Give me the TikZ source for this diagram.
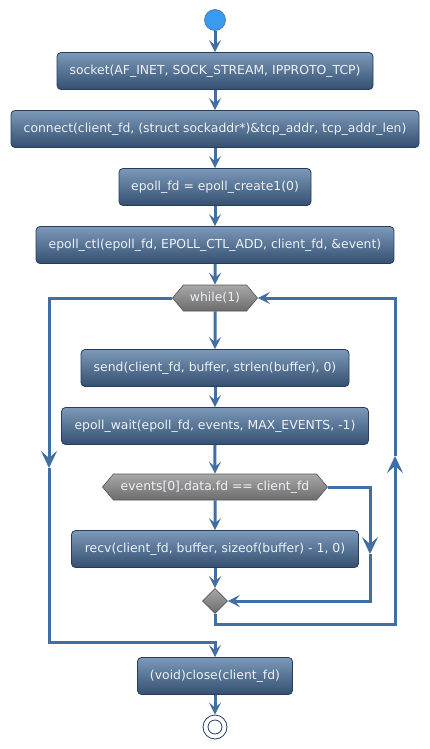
\documentclass[tikz,border=0pt]{standalone}
\usepackage{fontspec}
\setmainfont{DejaVu Sans}
\usetikzlibrary{arrows.meta,shapes.geometric,shapes.symbols}
\definecolor{flowblue}{RGB}{65,111,163}
\definecolor{boxtop}{RGB}{124,153,186}
\definecolor{boxbot}{RGB}{52,79,112}
\definecolor{boxedge}{RGB}{38,62,92}
\definecolor{condtop}{RGB}{168,168,168}
\definecolor{condbot}{RGB}{108,108,108}
\definecolor{condedge}{RGB}{85,85,85}
\definecolor{startblue}{RGB}{57,155,240}
\definecolor{labeltext}{RGB}{236,240,245}
\begin{document}
\begin{tikzpicture}[x=1pt, y=-1pt, font=\fontsize{12.4}{14}\selectfont,
    act/.style={rounded corners=4pt, draw=boxedge, line width=0.8pt, top color=boxtop, bottom color=boxbot, text=labeltext, minimum height=37pt, inner sep=0pt},
    cond/.style={signal, signal to=west and east, signal pointer angle=100, draw=condedge, line width=0.6pt, top color=condtop, bottom color=condbot, text=labeltext, minimum height=26pt, inner sep=0pt},
    flow/.style={draw=flowblue, line width=3pt},
    tip/.style={-{Stealth[length=12pt, width=12pt, inset=5pt]}},
    bigtip/.style={-{Stealth[length=17pt, width=16pt, inset=7pt]}}]
    \useasboundingbox[fill=white] (0,0) rectangle (430,749);
    \node[circle, fill=startblue, draw=flowblue, line width=0.6pt, minimum size=21pt, inner sep=0pt] (start) at (215,20) {};
    \foreach \n/\y/\w/\t in {sock/71/316/{socket(AF\_INET, SOCK\_STREAM, IPPROTO\_TCP)},
            conn/129/408/{connect(client\_fd, (struct sockaddr*)\&tcp\_addr, tcp\_addr\_len)},
            create/187/192/{epoll\_fd = epoll\_create1(0)},
            ctl/245/358/{epoll\_ctl(epoll\_fd, EPOLL\_CTL\_ADD, client\_fd, \&event)},
            send/368/268/{send(client\_fd, buffer, strlen(buffer), 0)},
            wait/426/307/{epoll\_wait(epoll\_fd, events, MAX\_EVENTS, -1)},
            recv/549/287/{recv(client\_fd, buffer, sizeof(buffer) - 1, 0)},
            close/676/155/{(void)close(client\_fd)}}
        \node[act, minimum width=\w pt] (\n) at (215,\y) {\t};
    \node[cond, minimum width=85pt] (wh) at (215,298) {while(1)};
    \node[cond, minimum width=225pt] (ifc) at (215,487) {events[0].data.fd == client\_fd};
    \node[diamond, draw=condedge, line width=0.6pt, top color=condtop, bottom color=condbot, minimum size=25pt, inner sep=0pt] (merge) at (215,601) {};
    \node[circle, draw=boxedge, line width=0.8pt, fill=white, minimum size=24pt, inner sep=0pt] (stop) at (215,727) {};
    \draw[boxedge, line width=0.8pt] (stop) circle (7pt);
    \foreach \a/\b in {start/sock, sock/conn, conn/create, create/ctl, ctl/wh, wh/send, send/wait, wait/ifc, ifc/recv, recv/merge, close/stop}
        \draw[flow, tip] (\a) -- (\b);
    % loop exit on the left, loop back on the right
    \coordinate (lt) at (49,298);
    \coordinate (lm) at (49,468);
    \coordinate (lb) at (49,642);
    \coordinate (rb) at (395,624);
    \coordinate (rm) at (395,456);
    \coordinate (rt) at (395,298);
    \draw[flow, bigtip] (wh.west) -- (lt) -- (lm);
    \draw[flow, tip] (lm) -- (lb) -| (close.north);
    \draw[flow, bigtip] (merge.south) |- (rb) -- (rm);
    \draw[flow, tip] (rm) -- (rt) -- (wh.east);
    % else branch of the if
    \coordinate (ft) at (370,487);
    \coordinate (fm) at (370,554);
    \draw[flow, bigtip] (ifc.east) -- (ft) -- (fm);
    \draw[flow, tip] (fm) |- (merge.east);
\end{tikzpicture}
\end{document}
